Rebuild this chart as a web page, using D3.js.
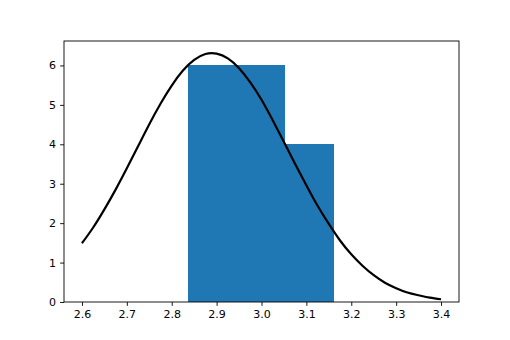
<!DOCTYPE html>
<html>
<head>
<meta charset="utf-8">
<script src="https://cdn.jsdelivr.net/npm/d3@7"></script>
<style>
  body { margin: 0; background: #fff; }
  .axis text { font-family: "DejaVu Sans", sans-serif; font-size: 11px; fill: #000; }
  .axis path, .axis line { stroke: #000; stroke-width: 0.9; }
</style>
</head>
<body>
<div id="chart-area"></div>
<script>
// histogram bins (edges) and counts
let binEdges = [2.837, 2.945, 3.053, 3.162];
let binCounts = [6, 6, 4];

// fitted curve
let curveX = [2.600, 2.625, 2.650, 2.675, 2.700, 2.725, 2.750, 2.775, 2.800, 2.825, 2.850, 2.875,
              2.900, 2.925, 2.950, 2.975, 3.000, 3.025, 3.050, 3.075, 3.100, 3.125, 3.150, 3.175,
              3.200, 3.225, 3.250, 3.275, 3.300, 3.325, 3.350, 3.375, 3.400];
let curveY = [1.49, 1.89, 2.35, 2.85, 3.39, 3.95, 4.51, 5.03, 5.49, 5.87, 6.14, 6.29,
              6.30, 6.18, 5.93, 5.57, 5.13, 4.61, 4.06, 3.50, 2.96, 2.44, 1.98, 1.56,
              1.21, 0.92, 0.68, 0.49, 0.35, 0.24, 0.17, 0.11, 0.07];

let xTicks = [2.6, 2.7, 2.8, 2.9, 3.0, 3.1, 3.2, 3.3, 3.4];
let yTicks = [0, 1, 2, 3, 4, 5, 6];

let margin = { left: 64, right: 51, top: 41, bottom: 38 };
let width = 510 - margin.left - margin.right;
let height = 340 - margin.top - margin.bottom;

let svg = d3.select("#chart-area")
  .append("svg")
    .attr("width", 510)
    .attr("height", 340);

let g = svg.append("g")
  .attr("transform", "translate(" + margin.left + ", " + margin.top + ")");

let x = d3.scaleLinear()
  .domain([2.56, 3.44])
  .range([0, width]);

let y = d3.scaleLinear()
  .domain([0, 6.62])
  .range([height, 0]);

// Bars
let bins = binCounts.map(function(c, i){
  return { x0: binEdges[i], x1: binEdges[i + 1], count: c };
});

g.selectAll("rect.bar")
  .data(bins)
  .enter()
  .append("rect")
  .attr("class", "bar")
  .attr("x", function(d){ return x(d.x0); })
  .attr("width", function(d){ return x(d.x1) - x(d.x0); })
  .attr("y", function(d){ return y(d.count); })
  .attr("height", function(d){ return y(0) - y(d.count); })
  .attr("fill", "#1f77b4")
  .attr("shape-rendering", "crispEdges");

// Curve
let pts = curveX.map(function(v, i){ return [v, curveY[i]]; });
let line = d3.line()
  .x(function(d){ return x(d[0]); })
  .y(function(d){ return y(d[1]); })
  .curve(d3.curveNatural);

g.append("path")
  .datum(pts)
  .attr("d", line)
  .attr("fill", "none")
  .attr("stroke", "#000")
  .attr("stroke-width", 2.2);

// Axes
let xAxisCall = d3.axisBottom(x)
  .tickValues(xTicks)
  .tickFormat(d3.format(".1f"))
  .tickSize(3.9)
  .tickPadding(4);

let yAxisCall = d3.axisLeft(y)
  .tickValues(yTicks)
  .tickFormat(d3.format("d"))
  .tickSize(3.9)
  .tickPadding(4);

g.append("g")
  .attr("class", "x axis")
  .attr("transform", "translate(0," + height + ")")
  .call(xAxisCall)
  .call(function(s){ s.select(".domain").remove(); });

g.append("g")
  .attr("class", "y axis")
  .call(yAxisCall)
  .call(function(s){ s.select(".domain").remove(); });

// Frame
g.append("rect")
  .attr("x", 0)
  .attr("y", 0)
  .attr("width", width)
  .attr("height", height)
  .attr("fill", "none")
  .attr("stroke", "#000")
  .attr("stroke-width", 0.9);
</script>
</body>
</html>
